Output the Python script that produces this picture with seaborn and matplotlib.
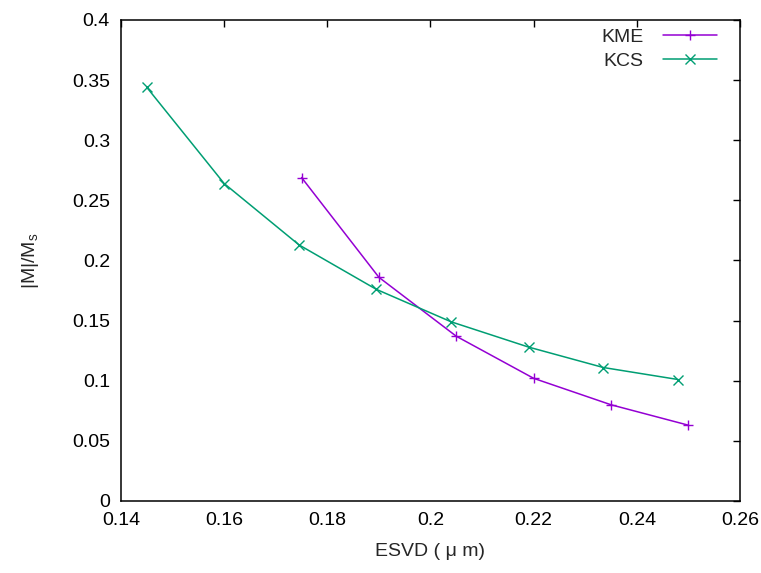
import numpy as np
import pandas as pd
import seaborn as sns
from matplotlib import pyplot as plt

# values
kme_esvd = [0.175, 0.190, 0.205, 0.220, 0.235, 0.250]
kme_m = [0.269, 0.186, 0.137, 0.102, 0.080, 0.063]
kcs_esvd = [0.145, 0.160, 0.1745, 0.1895, 0.204, 0.219, 0.2335, 0.248]
kcs_m = [0.344, 0.264, 0.213, 0.176, 0.149, 0.128, 0.111, 0.101]

df = pd.concat([
    pd.DataFrame({"ESVD": kme_esvd, "M": kme_m, "series": "KME"}),
    pd.DataFrame({"ESVD": kcs_esvd, "M": kcs_m, "series": "KCS"}),
])

sns.set_theme(style="white")
plt.rcParams["font.family"] = ["Liberation Sans", "DejaVu Sans"]
plt.rcParams["mathtext.default"] = "regular"
plt.rcParams["xtick.direction"] = "in"
plt.rcParams["ytick.direction"] = "in"

fig = plt.figure(figsize=(7.61, 5.73), dpi=100)
ax = fig.add_axes([0.159, 0.1257, 0.8134, 0.8394])

sns.lineplot(data=df, x="ESVD", y="M", hue="series", style="series",
             palette={"KME": "#9400D3", "KCS": "#009E73"},
             markers={"KME": "+", "KCS": "x"}, dashes=False,
             sort=False, markersize=7, markeredgewidth=1.0,
             linewidth=1.1, ax=ax)

# seaborn gives markers a white edge; gnuplot draws them in the line colour
for line in ax.lines:
    line.set_markeredgecolor(line.get_color())

leg = ax.get_legend()
handles = list(leg.legend_handles)
labels = [t.get_text() for t in leg.texts]
for h in handles:
    h.set_markeredgecolor(h.get_color())

ax.set_xlim(0.14, 0.26)
ax.set_ylim(0, 0.4)
ax.set_xticks(np.arange(0.14, 0.2601, 0.02))
ax.set_yticks(np.arange(0, 0.401, 0.05))
ax.set_xticklabels(["0.14", "0.16", "0.18", "0.2", "0.22", "0.24", "0.26"])
ax.set_yticklabels(["0", "0.05", "0.1", "0.15", "0.2", "0.25", "0.3", "0.35", "0.4"])
ax.tick_params(axis="both", which="both", direction="in", length=5, width=1,
               top=True, right=True, labelsize=14, colors="black", pad=8)
for s in ax.spines.values():
    s.set_color("black")
    s.set_linewidth(1.1)

ax.set_xlabel("ESVD ( μ m)", fontsize=14, labelpad=10)
ax.set_ylabel("|M|/M$_s$", fontsize=14, labelpad=22)

ax.legend(handles, labels, title=None, loc="upper right",
          bbox_to_anchor=(0.9887, 1.0146), frameon=False, markerfirst=False,
          fontsize=14, handlelength=2.8, labelspacing=0.3,
          borderaxespad=0.4, handletextpad=1.0)

fig.savefig("out.png", dpi=100)
